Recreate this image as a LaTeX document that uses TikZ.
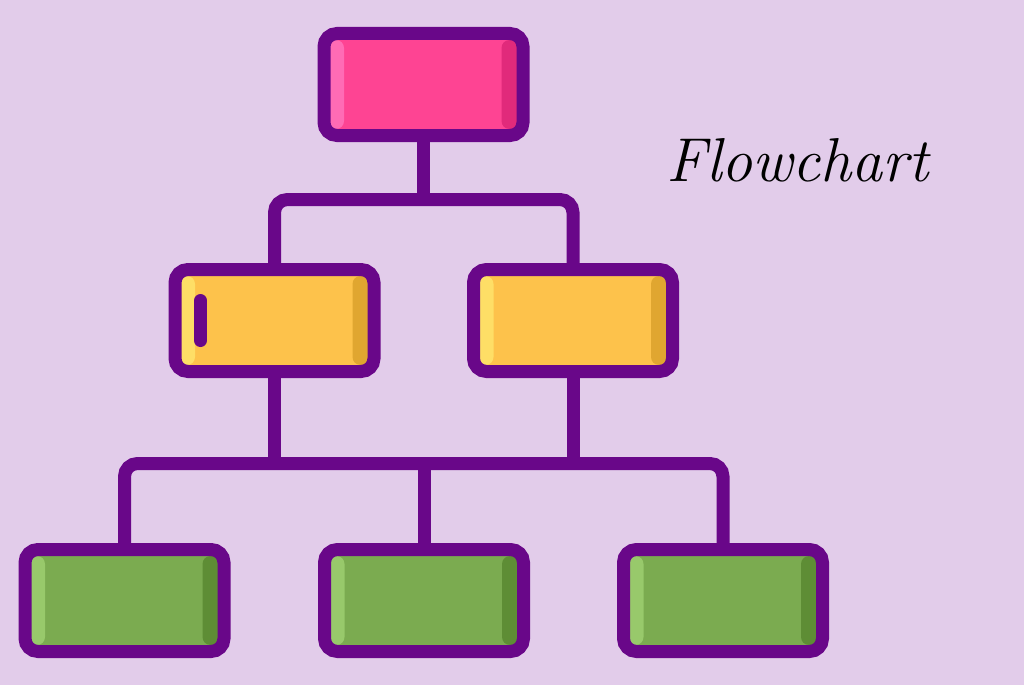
\documentclass[tikz,border=0pt]{standalone}
\usetikzlibrary{calc}
\definecolor{bg}{HTML}{E2CCEA}
\definecolor{pur}{HTML}{690789}
\definecolor{pinkm}{HTML}{FE4493}
\definecolor{pinkl}{HTML}{FF6BB5}
\definecolor{pinkd}{HTML}{E12A7B}
\definecolor{yelm}{HTML}{FDC24B}
\definecolor{yell}{HTML}{FEDE66}
\definecolor{yeld}{HTML}{E0A630}
\definecolor{grnm}{HTML}{7BAB50}
\definecolor{grnl}{HTML}{98C96B}
\definecolor{grnd}{HTML}{5E8D35}
\begin{document}
\begin{tikzpicture}[x=1pt,y=-1pt,
  box/.style n args={3}{draw=pur, line width=13pt, rounded corners=13pt,
    minimum width=199pt, minimum height=102pt, outer sep=0pt, inner sep=0pt,
    fill=#1,
    path picture={
      \fill[#2, rounded corners=8pt]
        ([xshift=-20pt,yshift=-6.5pt]path picture bounding box.north west) rectangle
        ([xshift=20pt,yshift=6.5pt]path picture bounding box.south west);
      \fill[#3, rounded corners=8pt]
        ([xshift=-21.5pt,yshift=-6.5pt]path picture bounding box.north east) rectangle
        ([xshift=20pt,yshift=6.5pt]path picture bounding box.south east);
    }},
  conn/.style={draw=pur, line width=13pt},
  title/.style={font=\fontsize{62}{70}\selectfont\itshape, text=black, anchor=base, inner sep=0pt}]
\useasboundingbox (0,0) rectangle (1024,685);
\fill[bg] (0,0) rectangle (1024,685);
% connectors
\coordinate (hy) at (0,199.5);
\coordinate (by) at (0,463.5);
% nodes
\node[box={pinkm}{pinkl}{pinkd}] (top) at (423.5,84.5) {};
\node[box={yelm}{yell}{yeld}] (yl) at (274.5,320.5) {};
\node[box={yelm}{yell}{yeld}] (yr) at (573,320.5) {};
\node[box={grnm}{grnl}{grnd}] (gl) at (124.5,600.5) {};
\node[box={grnm}{grnl}{grnd}] (gm) at (424,600.5) {};
\node[box={grnm}{grnl}{grnd}] (gr) at (723,600.5) {};
\draw[conn] (top.south) -- (top.south |- hy);
\draw[conn, rounded corners=13pt] (yl.north) |- (yr.north |- hy) -- (yr.north);
\draw[conn] (yl.south) -- (yl.south |- by);
\draw[conn] (yr.south) -- (yr.south |- by);
\draw[conn, rounded corners=13pt] (gl.north) |- (gr.north |- by) -- (gr.north);
\draw[conn] (gm.north) -- (gm.north |- by);
% small bar in left yellow box
\draw[pur, line width=13pt, line cap=round] ($(yl.west)+(25.5,-20)$) -- ($(yl.west)+(25.5,20)$);
% title
\node[title] (ttl) at (797.5,181) {Flowchart};
\end{tikzpicture}
\end{document}
